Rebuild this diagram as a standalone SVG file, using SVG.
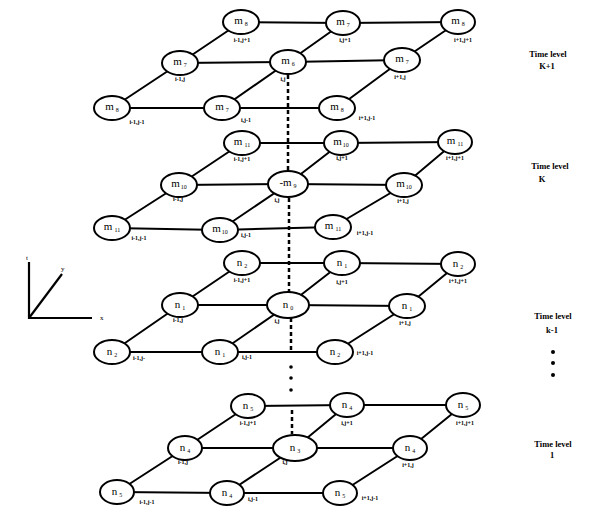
<svg xmlns="http://www.w3.org/2000/svg" width="611" height="517" viewBox="0 0 611 517">
<style>
.e{stroke:#000;stroke-width:2;fill:none}
.d{stroke:#000;stroke-width:2.5;stroke-dasharray:4 3;fill:none}
.n ellipse{fill:#fff;stroke:#000;stroke-width:2}
.t{font-family:"Liberation Serif",serif;font-size:11px;text-anchor:middle;fill:#000}
.s{font-size:6px}
.l{font-family:"Liberation Serif",serif;font-size:6px;font-weight:bold;text-anchor:middle;fill:#000}
.tl{font-family:"Liberation Serif",serif;font-size:8.5px;font-weight:bold;text-anchor:middle;fill:#000}
.ax{stroke:#000;stroke-width:2.2;fill:none}
.ab{font-family:"Liberation Serif",serif;font-size:7px;fill:#000}
</style>
<rect width="611" height="517" fill="#fff"/>
<g id="connectors">
<polyline class="e" points="241,22 343,23 458,22"/>
<polyline class="e" points="180,63 288,62 402,60"/>
<polyline class="e" points="112,108 222,108 337,108"/>
<polyline class="e" points="112,108 180,63 241,22"/>
<polyline class="e" points="222,108 288,62 343,23"/>
<polyline class="e" points="337,108 402,60 458,22"/>
<polyline class="e" points="242,143 341,143 455,142"/>
<polyline class="e" points="179,185 288,184 404,185"/>
<polyline class="e" points="112,228 220,230 333,227"/>
<polyline class="e" points="112,228 179,185 242,143"/>
<polyline class="e" points="220,230 288,184 341,143"/>
<polyline class="e" points="333,227 404,185 455,142"/>
<polyline class="e" points="242,263 342,263 458,264"/>
<polyline class="e" points="180,305 288,305 407,306"/>
<polyline class="e" points="112,352 220,352 335,352"/>
<polyline class="e" points="112,352 180,305 242,263"/>
<polyline class="e" points="220,352 288,305 342,263"/>
<polyline class="e" points="335,352 407,306 458,264"/>
<polyline class="e" points="248,406 347,405 463,405"/>
<polyline class="e" points="185,448 295,448 410,448"/>
<polyline class="e" points="117,492 227,493 340,493"/>
<polyline class="e" points="117,492 185,448 248,406"/>
<polyline class="e" points="227,493 295,448 347,405"/>
<polyline class="e" points="340,493 410,448 463,405"/>
<line class="d" x1="288" y1="75" x2="288" y2="171"/>
<line class="d" x1="289" y1="198" x2="289" y2="292"/>
<line class="d" x1="291" y1="318" x2="291" y2="353"/>
<line class="d" x1="292" y1="410" x2="292" y2="434"/>
<circle cx="291" cy="367" r="1.8" fill="#000"/>
<circle cx="291" cy="378" r="1.8" fill="#000"/>
<circle cx="291" cy="390" r="1.8" fill="#000"/>
</g>
<g id="L1-BL" class="n"><ellipse cx="241" cy="22" rx="18" ry="12"/><text class="t" x="241" y="24">m<tspan class="s" dx="2" dy="2">8</tspan></text><text class="l" x="242" y="42">i-1,j+1</text></g>
<g id="L1-BM" class="n"><ellipse cx="343" cy="23" rx="17" ry="12"/><text class="t" x="343" y="25">m<tspan class="s" dx="2" dy="2">7</tspan></text><text class="l" x="345" y="42">i,j+1</text></g>
<g id="L1-BR" class="n"><ellipse cx="458" cy="22" rx="17" ry="12"/><text class="t" x="458" y="24">m<tspan class="s" dx="2" dy="2">8</tspan></text><text class="l" x="463" y="42">i+1,j+1</text></g>
<g id="L1-ML" class="n"><ellipse cx="180" cy="63" rx="18" ry="12"/><text class="t" x="180" y="65">m<tspan class="s" dx="2" dy="2">7</tspan></text><text class="l" x="180" y="81">i-1,j</text></g>
<g id="L1-C" class="n"><ellipse cx="288" cy="62" rx="18" ry="12"/><text class="t" x="288" y="64">m<tspan class="s" dx="2" dy="2">6</tspan></text><text class="l" x="283" y="81">i,j</text></g>
<g id="L1-MR" class="n"><ellipse cx="402" cy="60" rx="18" ry="12"/><text class="t" x="402" y="62">m<tspan class="s" dx="2" dy="2">7</tspan></text><text class="l" x="400" y="79">i+1,j</text></g>
<g id="L1-FL" class="n"><ellipse cx="112" cy="108" rx="18" ry="12"/><text class="t" x="112" y="110">m<tspan class="s" dx="2" dy="2">8</tspan></text><text class="l" x="137" y="124">i-1,j-1</text></g>
<g id="L1-FM" class="n"><ellipse cx="222" cy="108" rx="18" ry="12"/><text class="t" x="222" y="110">m<tspan class="s" dx="2" dy="2">7</tspan></text><text class="l" x="246" y="122">i,j-1</text></g>
<g id="L1-FR" class="n"><ellipse cx="337" cy="108" rx="18" ry="12"/><text class="t" x="337" y="110">m<tspan class="s" dx="2" dy="2">8</tspan></text><text class="l" x="367" y="120">i+1,j-1</text></g>
<g id="L2-BL" class="n"><ellipse cx="242" cy="143" rx="18" ry="12"/><text class="t" x="242" y="145">m<tspan class="s" dx="2" dy="2">11</tspan></text><text class="l" x="242" y="161">i-1,j+1</text></g>
<g id="L2-BM" class="n"><ellipse cx="341" cy="143" rx="17" ry="12"/><text class="t" x="341" y="145">m<tspan class="s" dx="1" dy="2">10</tspan></text><text class="l" x="342" y="160">i,j+1</text></g>
<g id="L2-BR" class="n"><ellipse cx="455" cy="142" rx="17" ry="12"/><text class="t" x="455" y="144">m<tspan class="s" dx="2" dy="2">11</tspan></text><text class="l" x="455" y="160">i+1,j+1</text></g>
<g id="L2-ML" class="n"><ellipse cx="179" cy="185" rx="18" ry="12"/><text class="t" x="179" y="187">m<tspan class="s" dx="1" dy="2">10</tspan></text><text class="l" x="178" y="201">i-1,j</text></g>
<g id="L2-C" class="n"><ellipse cx="288" cy="184" rx="20" ry="13"/><text class="t" x="288" y="186">-m<tspan class="s" dx="2" dy="2">9</tspan></text><text class="l" x="277" y="202">i,j</text></g>
<g id="L2-MR" class="n"><ellipse cx="404" cy="185" rx="18" ry="12"/><text class="t" x="404" y="187">m<tspan class="s" dx="1" dy="2">10</tspan></text><text class="l" x="403" y="203">i+1,j</text></g>
<g id="L2-FL" class="n"><ellipse cx="112" cy="228" rx="18" ry="12"/><text class="t" x="112" y="230">m<tspan class="s" dx="2" dy="2">11</tspan></text><text class="l" x="139" y="240">i-1,j-1</text></g>
<g id="L2-FM" class="n"><ellipse cx="220" cy="230" rx="18" ry="12"/><text class="t" x="220" y="232">m<tspan class="s" dx="1" dy="2">10</tspan></text><text class="l" x="246" y="237">i,j-1</text></g>
<g id="L2-FR" class="n"><ellipse cx="333" cy="227" rx="18" ry="12"/><text class="t" x="333" y="229">m<tspan class="s" dx="2" dy="2">11</tspan></text><text class="l" x="365" y="235">i+1,j-1</text></g>
<g id="L3-BL" class="n"><ellipse cx="242" cy="263" rx="18" ry="12"/><text class="t" x="242" y="266">n<tspan class="s" dx="2" dy="2">2</tspan></text><text class="l" x="242" y="282">i-1,j+1</text></g>
<g id="L3-BM" class="n"><ellipse cx="342" cy="263" rx="18" ry="12"/><text class="t" x="342" y="266">n<tspan class="s" dx="2" dy="2">1</tspan></text><text class="l" x="342" y="284">i,j+1</text></g>
<g id="L3-BR" class="n"><ellipse cx="458" cy="264" rx="17" ry="12"/><text class="t" x="458" y="267">n<tspan class="s" dx="2" dy="2">2</tspan></text><text class="l" x="458" y="283">i+1,j+1</text></g>
<g id="L3-ML" class="n"><ellipse cx="180" cy="305" rx="18" ry="12"/><text class="t" x="180" y="308">n<tspan class="s" dx="2" dy="2">1</tspan></text><text class="l" x="178" y="322">i-1,j</text></g>
<g id="L3-C" class="n"><ellipse cx="288" cy="305" rx="21" ry="13"/><text class="t" x="288" y="308">n<tspan class="s" dx="2" dy="2">0</tspan></text><text class="l" x="277" y="323">i,j</text></g>
<g id="L3-MR" class="n"><ellipse cx="407" cy="306" rx="18" ry="12"/><text class="t" x="407" y="309">n<tspan class="s" dx="2" dy="2">1</tspan></text><text class="l" x="405" y="325">i+1,j</text></g>
<g id="L3-FL" class="n"><ellipse cx="112" cy="352" rx="18" ry="12"/><text class="t" x="112" y="355">n<tspan class="s" dx="2" dy="2">2</tspan></text><text class="l" x="139" y="360">i-1,j-</text></g>
<g id="L3-FM" class="n"><ellipse cx="220" cy="352" rx="18" ry="12"/><text class="t" x="220" y="355">n<tspan class="s" dx="2" dy="2">1</tspan></text><text class="l" x="247" y="359">i,j-1</text></g>
<g id="L3-FR" class="n"><ellipse cx="335" cy="352" rx="18" ry="12"/><text class="t" x="335" y="355">n<tspan class="s" dx="2" dy="2">2</tspan></text><text class="l" x="365" y="355">i+1,j-1</text></g>
<g id="L4-BL" class="n"><ellipse cx="248" cy="406" rx="17" ry="12"/><text class="t" x="248" y="409">n<tspan class="s" dx="2" dy="2">5</tspan></text><text class="l" x="248" y="425">i-1,j+1</text></g>
<g id="L4-BM" class="n"><ellipse cx="347" cy="405" rx="17" ry="12"/><text class="t" x="347" y="408">n<tspan class="s" dx="2" dy="2">4</tspan></text><text class="l" x="347" y="425">i,j+1</text></g>
<g id="L4-BR" class="n"><ellipse cx="463" cy="405" rx="17" ry="12"/><text class="t" x="463" y="408">n<tspan class="s" dx="2" dy="2">5</tspan></text><text class="l" x="465" y="425">i+1,j+1</text></g>
<g id="L4-ML" class="n"><ellipse cx="185" cy="448" rx="17" ry="12"/><text class="t" x="185" y="451">n<tspan class="s" dx="2" dy="2">4</tspan></text><text class="l" x="183" y="464">i-1,j</text></g>
<g id="L4-C" class="n"><ellipse cx="295" cy="448" rx="22" ry="13"/><text class="t" x="295" y="451">n<tspan class="s" dx="2" dy="2">3</tspan></text><text class="l" x="285" y="464">i,j</text></g>
<g id="L4-MR" class="n"><ellipse cx="410" cy="448" rx="17" ry="12"/><text class="t" x="410" y="451">n<tspan class="s" dx="2" dy="2">4</tspan></text><text class="l" x="408" y="467">i+1,j</text></g>
<g id="L4-FL" class="n"><ellipse cx="117" cy="492" rx="17" ry="12"/><text class="t" x="117" y="495">n<tspan class="s" dx="2" dy="2">5</tspan></text><text class="l" x="147" y="504">i-1,j-1</text></g>
<g id="L4-FM" class="n"><ellipse cx="227" cy="493" rx="17" ry="12"/><text class="t" x="227" y="496">n<tspan class="s" dx="2" dy="2">4</tspan></text><text class="l" x="253" y="501">i,j-1</text></g>
<g id="L4-FR" class="n"><ellipse cx="340" cy="493" rx="17" ry="12"/><text class="t" x="340" y="496">n<tspan class="s" dx="2" dy="2">5</tspan></text><text class="l" x="370" y="500">i+1,j-1</text></g>
<g id="axes">
<line class="ax" x1="29" y1="262" x2="29" y2="319"/>
<line class="ax" x1="28" y1="318" x2="92" y2="318"/>
<line class="ax" x1="29" y1="318" x2="62" y2="274"/>
<text class="ab" x="26" y="260">t</text>
<text class="ab" x="61" y="271">y</text>
<text class="ab" x="100" y="320">x</text>
</g>
<g id="time-levels">
<text class="tl" x="548" y="57">Time level</text>
<text class="tl" x="547" y="69">K+1</text>
<text class="tl" x="550" y="169">Time level</text>
<text class="tl" x="542" y="182">K</text>
<text class="tl" x="553" y="319">Time level</text>
<text class="tl" x="552" y="333">k-1</text>
<circle cx="553" cy="352" r="2" fill="#000"/>
<circle cx="553" cy="363" r="2" fill="#000"/>
<circle cx="553" cy="375" r="2" fill="#000"/>
<text class="tl" x="553" y="447">Time level</text>
<text class="tl" x="552" y="458">1</text>
</g>
</svg>
